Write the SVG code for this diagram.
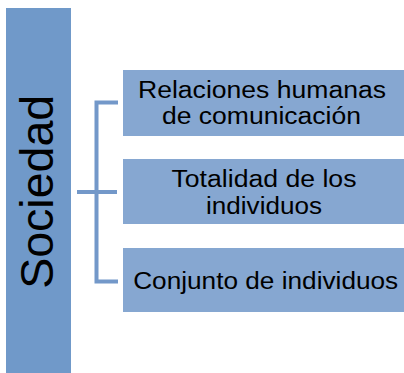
<svg xmlns="http://www.w3.org/2000/svg" width="404" height="373" viewBox="0 0 404 373">
<style>
.t{font-family:"Liberation Sans",Arial,sans-serif;fill:#000;text-anchor:middle}
.b{font-size:23px}
.box{fill:#86a7d1}
.ln{stroke:#7398c9;stroke-width:4;fill:none}
</style>
<rect width="404" height="373" fill="#fff"/>
<g id="sociedad">
<rect x="6" y="8" width="65" height="365" fill="#7099c9"/>
<text class="t" font-size="47" transform="translate(53,191.8) rotate(-90)" textLength="194" lengthAdjust="spacingAndGlyphs">Sociedad</text>
</g>
<g id="connectors">
<path class="ln" d="M77,192 H117 M118,102.5 H96.5 V281.5 H118"/>
</g>
<g id="n1">
<rect class="box" x="123" y="70" width="281" height="66"/>
<text class="t b" x="262" y="97.7" textLength="248" lengthAdjust="spacingAndGlyphs">Relaciones humanas</text>
<text class="t b" x="261.5" y="123.5" textLength="199" lengthAdjust="spacingAndGlyphs">de comunicación</text>
</g>
<g id="n2">
<rect class="box" x="123" y="159" width="281" height="65"/>
<text class="t b" x="264" y="186.5" textLength="185" lengthAdjust="spacingAndGlyphs">Totalidad de los</text>
<text class="t b" x="264" y="214" textLength="116" lengthAdjust="spacingAndGlyphs">individuos</text>
</g>
<g id="n3">
<rect class="box" x="123" y="248" width="281" height="64"/>
<text class="t b" x="265.7" y="288.5" textLength="265" lengthAdjust="spacingAndGlyphs">Conjunto de individuos</text>
</g>
</svg>
